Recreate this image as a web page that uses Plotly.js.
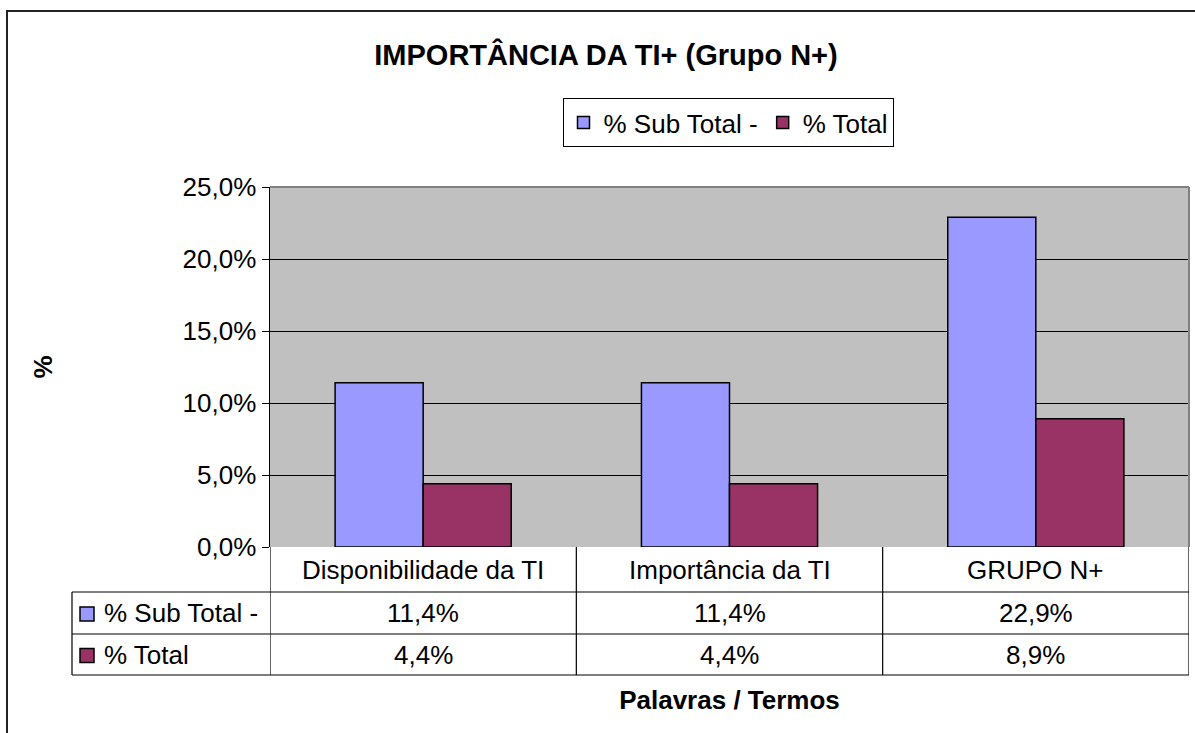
<!DOCTYPE html>
<html>
<head>
<meta charset="utf-8">
<script src="https://cdn.plot.ly/plotly-3.0.1.min.js"></script>
<style>html,body{margin:0;padding:0;background:#fff;}#chart{width:1195px;height:733px;}</style>
</head>
<body>
<div id="chart"></div>
<script>
const categories = ["Disponibilidade da TI", "Importância da TI", "GRUPO N+"];
const seriesNames = ["% Sub Total -", "% Total"];
const subTotal = [0.114, 0.114, 0.229];
const total = [0.044, 0.044, 0.089];
const yTicks = [0, 0.05, 0.10, 0.15, 0.20, 0.25];

const colors = ["#9999FF", "#993366"];
const FONT = "Liberation Sans, Arial, sans-serif";
const W = 1195, H = 733;
const L = 270, R = 1189, T = 187, B = 547;
const pw = R - L, ph = B - T;
const px = v => (v - L) / pw;
const py = v => (B - v) / ph;
const fmt = v => (v * 100).toFixed(1).replace('.', ',') + '%';
const FS = 26;

const traces = [subTotal, total].map((vals, i) => ({
  type: 'bar', name: seriesNames[i], x: categories, y: vals,
  marker: {color: colors[i], line: {color: '#000', width: 1.5}},
  hoverinfo: 'skip'
}));

const shapes = [];
const annotations = [];
// outer chart border
shapes.push({type:'rect', xref:'paper', yref:'paper', x0:px(7), x1:px(1210), y0:py(750), y1:py(11), line:{color:'#222', width:2}, layer:'below'});
// plot border top/right
shapes.push({type:'line', xref:'paper', yref:'paper', x0:0, x1:1, y0:1, y1:1, line:{color:'#808080', width:2}});
shapes.push({type:'line', xref:'paper', yref:'paper', x0:1, x1:1, y0:0, y1:1, line:{color:'#808080', width:2}});
// table rows
const rowY = [B, 592, 634, 675];
const tableLeft = 72;
for (let r = 1; r < rowY.length; r++) {
  shapes.push({type:'line', xref:'paper', yref:'paper', x0:px(tableLeft), x1:1, y0:py(rowY[r]), y1:py(rowY[r]), line:{color:'#000', width:1.2}});
}
shapes.push({type:'line', xref:'paper', yref:'paper', x0:px(tableLeft), x1:px(tableLeft), y0:py(rowY[1]), y1:py(rowY[3]), line:{color:'#000', width:1.2}});
for (let c = 0; c <= categories.length; c++) {
  shapes.push({type:'line', xref:'x', yref:'paper', x0:c - 0.5, x1:c - 0.5, y0:py(rowY[0]), y1:py(rowY[3]), line:{color:'#000', width:1.2}});
}
// category labels
categories.forEach((c, i) => {
  annotations.push({xref:'x', yref:'paper', x:i, y:py((rowY[0]+rowY[1])/2), text:c, showarrow:false, xanchor:'center', yanchor:'middle', font:{family:FONT, size:FS, color:'#000'}});
});
// data rows
[subTotal, total].forEach((vals, r) => {
  const cy = (rowY[r+1] + rowY[r+2]) / 2;
  shapes.push({type:'rect', xref:'paper', yref:'paper', x0:px(80), x1:px(94), y0:py(cy+8), y1:py(cy-6), fillcolor:colors[r], line:{color:'#000', width:1.5}});
  annotations.push({xref:'paper', yref:'paper', x:px(102), y:py(cy), text:seriesNames[r], showarrow:false, xanchor:'left', yanchor:'middle', font:{family:FONT, size:FS, color:'#000'}});
  vals.forEach((v, i) => {
    annotations.push({xref:'x', yref:'paper', x:i, y:py(cy), text:fmt(v), showarrow:false, xanchor:'center', yanchor:'middle', font:{family:FONT, size:FS, color:'#000'}});
  });
});

const layout = {
  width: W, height: H,
  margin: {l: L, r: W - R, t: T, b: H - B, pad: 0},
  paper_bgcolor: '#fff', plot_bgcolor: '#C0C0C0',
  separators: ',.',
  title: {text: 'IMPORTÂNCIA DA TI+ (Grupo N+)', font: {family: FONT, size: 29, color: '#000', weight: 'bold'}, xref: 'container', x: 606 / W, xanchor: 'center', yref: 'container', y: 1 - 55/H, yanchor: 'middle'},
  barmode: 'group', bargap: 0.425, bargroupgap: 0,
  showlegend: true,
  legend: {orientation: 'h', x: px(728), xanchor: 'center', y: py(98), yanchor: 'top', bordercolor: '#000', borderwidth: 1, bgcolor: '#fff', font: {family: FONT, size: FS, color: '#000'}, itemwidth: 30, traceorder: 'normal'},
  xaxis: {type: 'category', showticklabels: false, ticks: '', showgrid: false, zeroline: false, showline: false, range: [-0.5, 2.5], fixedrange: true,
    title: {text: 'Palavras / Termos', font: {family: FONT, size: 26, color: '#000', weight: 'bold'}, standoff: 143}},
  yaxis: {range: [0, 0.25], tickvals: yTicks, tickformat: '.1%', ticks: 'outside', ticklen: 7, tickcolor: '#000', tickwidth: 1,
    showgrid: true, gridcolor: '#000', gridwidth: 1, zeroline: false, showline: true, linecolor: '#000', linewidth: 1.5,
    tickfont: {family: FONT, size: FS, color: '#000'}, automargin: false,
    title: {text: '%', font: {family: FONT, size: 26, color: '#000', weight: 'bold'}, standoff: 122}},
  shapes: shapes, annotations: annotations
};

Plotly.newPlot('chart', traces, layout, {displayModeBar: false, staticPlot: true});
</script>
</body>
</html>
